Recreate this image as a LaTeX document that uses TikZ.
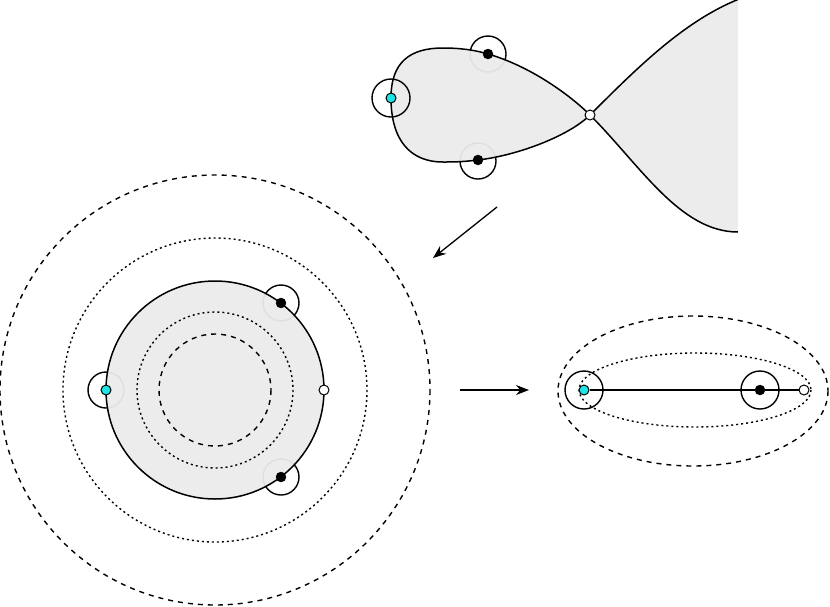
\documentclass[tikz,border=0pt]{standalone}
\usetikzlibrary{arrows.meta}
\definecolor{aqua}{RGB}{30,228,232}
\begin{document}
\begin{tikzpicture}[x=1pt,y=-1pt,
  line/.style={line width=1.5pt},
  thin circ/.style={line width=1.4pt},
  bdot/.style={circle,fill=black,draw=black,inner sep=0pt,minimum size=10pt},
  cdot/.style={circle,fill=aqua,draw=black,line width=1pt,inner sep=0pt,minimum size=10pt},
  wdot/.style={circle,fill=white,draw=black,line width=1pt,inner sep=0pt,minimum size=10pt},
  shade/.style={fill=black!8,fill opacity=0.95},
  dsh/.style={line width=1.4pt,dash pattern=on 5pt off 5pt},
  dtt/.style={line width=1.4pt,dash pattern=on 2pt off 3pt},
  arr/.style={line width=1.3pt,-{Stealth[length=13pt,width=10pt]}}
]
\useasboundingbox (0,0) rectangle (830,606);

% ---------------- fish ----------------
\draw[thin circ] (488,54) circle (18);
\draw[thin circ] (478,161) circle (18);
\begin{scope}
\clip (0,0) rectangle (738,606);
\fill[shade] (590,115) .. controls (640,65) and (690,15) .. (750,-5) -- (750,232) -- (738,232) .. controls (680,232) and (640,165) .. (590,115) -- cycle;
\draw[line] (590,115) .. controls (640,65) and (690,15) .. (750,-5);
\draw[line] (590,115) .. controls (640,165) and (680,232) .. (738,232);
\end{scope}
\filldraw[shade,draw=black,line width=1.5pt,draw opacity=1]
  (391,98) .. controls (391,62) and (410,48) .. (443,48)
  .. controls (460,48) and (475,50) .. (488,54)
  .. controls (530,66) and (570,95) .. (590,115)
  .. controls (570,135) and (520,155) .. (478,160)
  .. controls (462,162) and (452,162) .. (443,162)
  .. controls (410,162) and (391,140) .. (391,98) -- cycle;
\draw[thin circ] (391,98) circle (19);
\node[bdot] (f1) at (488,54) {};
\node[bdot] (f2) at (478,160) {};
\node[cdot] (f0) at (391,98) {};
\node[wdot] (fn) at (590,115) {};

% ---------------- arrows ----------------
\coordinate (a1s) at (497,207);
\coordinate (a1e) at (433,258);
\coordinate (a2s) at (460,390);
\coordinate (a2e) at (529,390);
\draw[arr] (a1s) -- (a1e);
\draw[arr] (a2s) -- (a2e);

% ---------------- left disc ----------------
\coordinate (C) at (215,390);
\draw[dsh] (C) circle (215);
\draw[dtt] (C) circle (152);
\draw[thin circ] (106,390) circle (18);
\draw[thin circ] (281,303) circle (18);
\draw[thin circ] (281,477) circle (18);
\filldraw[shade,draw=black,line width=1.5pt,draw opacity=1] (C) circle (109);
\draw[dtt] (C) circle (78);
\draw[dsh] (C) circle (56);
\node[cdot] (d0) at (106,390) {};
\node[bdot] (d1) at (281,303) {};
\node[bdot] (d2) at (281,477) {};
\node[wdot] (dn) at (324,390) {};

% ---------------- right figure ----------------
\draw[dsh] (693,391) ellipse (135 and 75);
\draw[dtt] (695,390) ellipse (116 and 37);
\node[cdot] (e0) at (584,390) {};
\node[bdot] (e1) at (760,390) {};
\node[wdot] (en) at (804,390) {};
\draw[line] (e0) -- (e1) -- (en);
\draw[thin circ] (e0.center) circle (19);
\draw[thin circ] (e1.center) circle (19);
\end{tikzpicture}
\end{document}
